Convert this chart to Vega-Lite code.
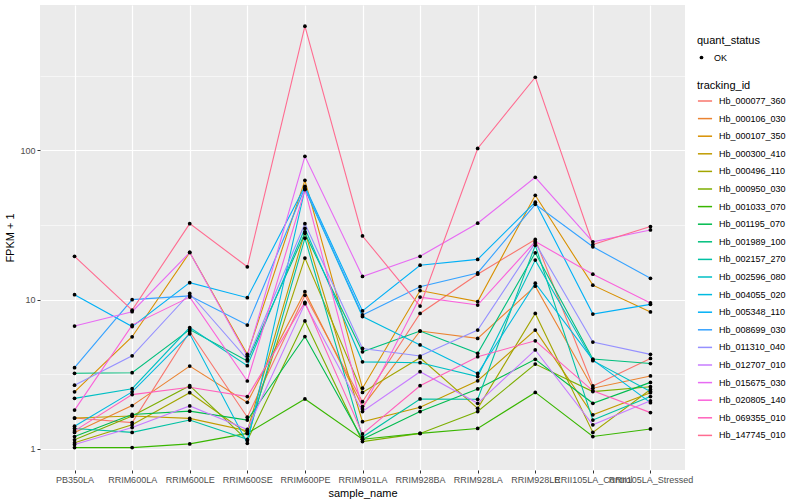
{
"$schema": "https://vega.github.io/schema/vega-lite/v6.json",
"width": 645, "height": 465,
"autosize": {"type": "none"},
"padding": {"left": 40, "top": 5, "right": 115, "bottom": 30},
"background": "white",
"config": {
  "view": {"fill": "#EBEBEB", "stroke": null},
  "font": "Liberation Sans",
  "axis": {"domain": false, "tickColor": "#333333", "tickSize": 3, "tickWidth": 1, "labelColor": "#4D4D4D", "labelFontSize": 9, "labelFont": "Liberation Sans", "titleFont": "Liberation Sans", "titleFontSize": 11, "titleFontWeight": "normal", "titleColor": "black", "gridColor": "white", "labelPadding": 2},
  "legend": {"titleFont": "Liberation Sans", "titleFontSize": 11, "titleFontWeight": "normal", "titleColor": "black", "labelFont": "Liberation Sans", "labelFontSize": 9, "labelColor": "black"}
},
"datasets": {"fpkm": [
{"tracking_id":"Hb_000077_360","sample_name":"PB350LA","FPKM1":1.61,"quant_status":"OK"},
{"tracking_id":"Hb_000077_360","sample_name":"RRIM600LA","FPKM1":1.50,"quant_status":"OK"},
{"tracking_id":"Hb_000077_360","sample_name":"RRIM600LE","FPKM1":6.1,"quant_status":"OK"},
{"tracking_id":"Hb_000077_360","sample_name":"RRIM600SE","FPKM1":1.63,"quant_status":"OK"},
{"tracking_id":"Hb_000077_360","sample_name":"RRIM600PE","FPKM1":10.7,"quant_status":"OK"},
{"tracking_id":"Hb_000077_360","sample_name":"RRIM901LA","FPKM1":2.07,"quant_status":"OK"},
{"tracking_id":"Hb_000077_360","sample_name":"RRIM928BA","FPKM1":8.08,"quant_status":"OK"},
{"tracking_id":"Hb_000077_360","sample_name":"RRIM928LA","FPKM1":14.8,"quant_status":"OK"},
{"tracking_id":"Hb_000077_360","sample_name":"RRIM928LE","FPKM1":25.3,"quant_status":"OK"},
{"tracking_id":"Hb_000077_360","sample_name":"RRII105LA_Control","FPKM1":2.64,"quant_status":"OK"},
{"tracking_id":"Hb_000077_360","sample_name":"RRII105LA_Stressed","FPKM1":4.04,"quant_status":"OK"},
{"tracking_id":"Hb_000106_030","sample_name":"PB350LA","FPKM1":1.29,"quant_status":"OK"},
{"tracking_id":"Hb_000106_030","sample_name":"RRIM600LA","FPKM1":1.95,"quant_status":"OK"},
{"tracking_id":"Hb_000106_030","sample_name":"RRIM600LE","FPKM1":3.59,"quant_status":"OK"},
{"tracking_id":"Hb_000106_030","sample_name":"RRIM600SE","FPKM1":2.05,"quant_status":"OK"},
{"tracking_id":"Hb_000106_030","sample_name":"RRIM600PE","FPKM1":11.3,"quant_status":"OK"},
{"tracking_id":"Hb_000106_030","sample_name":"RRIM901LA","FPKM1":1.92,"quant_status":"OK"},
{"tracking_id":"Hb_000106_030","sample_name":"RRIM928BA","FPKM1":6.16,"quant_status":"OK"},
{"tracking_id":"Hb_000106_030","sample_name":"RRIM928LA","FPKM1":5.5,"quant_status":"OK"},
{"tracking_id":"Hb_000106_030","sample_name":"RRIM928LE","FPKM1":12.3,"quant_status":"OK"},
{"tracking_id":"Hb_000106_030","sample_name":"RRII105LA_Control","FPKM1":2.55,"quant_status":"OK"},
{"tracking_id":"Hb_000106_030","sample_name":"RRII105LA_Stressed","FPKM1":3.08,"quant_status":"OK"},
{"tracking_id":"Hb_000107_350","sample_name":"PB350LA","FPKM1":2.41,"quant_status":"OK"},
{"tracking_id":"Hb_000107_350","sample_name":"RRIM600LA","FPKM1":5.64,"quant_status":"OK"},
{"tracking_id":"Hb_000107_350","sample_name":"RRIM600LE","FPKM1":20.7,"quant_status":"OK"},
{"tracking_id":"Hb_000107_350","sample_name":"RRIM600SE","FPKM1":4.30,"quant_status":"OK"},
{"tracking_id":"Hb_000107_350","sample_name":"RRIM600PE","FPKM1":63,"quant_status":"OK"},
{"tracking_id":"Hb_000107_350","sample_name":"RRIM901LA","FPKM1":2.55,"quant_status":"OK"},
{"tracking_id":"Hb_000107_350","sample_name":"RRIM928BA","FPKM1":11.5,"quant_status":"OK"},
{"tracking_id":"Hb_000107_350","sample_name":"RRIM928LA","FPKM1":9.7,"quant_status":"OK"},
{"tracking_id":"Hb_000107_350","sample_name":"RRIM928LE","FPKM1":50,"quant_status":"OK"},
{"tracking_id":"Hb_000107_350","sample_name":"RRII105LA_Control","FPKM1":12.5,"quant_status":"OK"},
{"tracking_id":"Hb_000107_350","sample_name":"RRII105LA_Stressed","FPKM1":8.27,"quant_status":"OK"},
{"tracking_id":"Hb_000300_410","sample_name":"PB350LA","FPKM1":1.61,"quant_status":"OK"},
{"tracking_id":"Hb_000300_410","sample_name":"RRIM600LA","FPKM1":1.66,"quant_status":"OK"},
{"tracking_id":"Hb_000300_410","sample_name":"RRIM600LE","FPKM1":1.60,"quant_status":"OK"},
{"tracking_id":"Hb_000300_410","sample_name":"RRIM600SE","FPKM1":1.32,"quant_status":"OK"},
{"tracking_id":"Hb_000300_410","sample_name":"RRIM600PE","FPKM1":28.5,"quant_status":"OK"},
{"tracking_id":"Hb_000300_410","sample_name":"RRIM901LA","FPKM1":1.52,"quant_status":"OK"},
{"tracking_id":"Hb_000300_410","sample_name":"RRIM928BA","FPKM1":1.90,"quant_status":"OK"},
{"tracking_id":"Hb_000300_410","sample_name":"RRIM928LA","FPKM1":2.86,"quant_status":"OK"},
{"tracking_id":"Hb_000300_410","sample_name":"RRIM928LE","FPKM1":6.25,"quant_status":"OK"},
{"tracking_id":"Hb_000300_410","sample_name":"RRII105LA_Control","FPKM1":1.69,"quant_status":"OK"},
{"tracking_id":"Hb_000300_410","sample_name":"RRII105LA_Stressed","FPKM1":2.38,"quant_status":"OK"},
{"tracking_id":"Hb_000496_110","sample_name":"PB350LA","FPKM1":1.10,"quant_status":"OK"},
{"tracking_id":"Hb_000496_110","sample_name":"RRIM600LA","FPKM1":1.45,"quant_status":"OK"},
{"tracking_id":"Hb_000496_110","sample_name":"RRIM600LE","FPKM1":2.38,"quant_status":"OK"},
{"tracking_id":"Hb_000496_110","sample_name":"RRIM600SE","FPKM1":1.27,"quant_status":"OK"},
{"tracking_id":"Hb_000496_110","sample_name":"RRIM600PE","FPKM1":19.0,"quant_status":"OK"},
{"tracking_id":"Hb_000496_110","sample_name":"RRIM901LA","FPKM1":2.39,"quant_status":"OK"},
{"tracking_id":"Hb_000496_110","sample_name":"RRIM928BA","FPKM1":4.08,"quant_status":"OK"},
{"tracking_id":"Hb_000496_110","sample_name":"RRIM928LA","FPKM1":1.87,"quant_status":"OK"},
{"tracking_id":"Hb_000496_110","sample_name":"RRIM928LE","FPKM1":8.08,"quant_status":"OK"},
{"tracking_id":"Hb_000496_110","sample_name":"RRII105LA_Control","FPKM1":1.29,"quant_status":"OK"},
{"tracking_id":"Hb_000496_110","sample_name":"RRII105LA_Stressed","FPKM1":2.5,"quant_status":"OK"},
{"tracking_id":"Hb_000950_030","sample_name":"PB350LA","FPKM1":1.15,"quant_status":"OK"},
{"tracking_id":"Hb_000950_030","sample_name":"RRIM600LA","FPKM1":1.66,"quant_status":"OK"},
{"tracking_id":"Hb_000950_030","sample_name":"RRIM600LE","FPKM1":2.65,"quant_status":"OK"},
{"tracking_id":"Hb_000950_030","sample_name":"RRIM600SE","FPKM1":1.14,"quant_status":"OK"},
{"tracking_id":"Hb_000950_030","sample_name":"RRIM600PE","FPKM1":7.2,"quant_status":"OK"},
{"tracking_id":"Hb_000950_030","sample_name":"RRIM901LA","FPKM1":1.12,"quant_status":"OK"},
{"tracking_id":"Hb_000950_030","sample_name":"RRIM928BA","FPKM1":1.27,"quant_status":"OK"},
{"tracking_id":"Hb_000950_030","sample_name":"RRIM928LA","FPKM1":1.78,"quant_status":"OK"},
{"tracking_id":"Hb_000950_030","sample_name":"RRIM928LE","FPKM1":3.7,"quant_status":"OK"},
{"tracking_id":"Hb_000950_030","sample_name":"RRII105LA_Control","FPKM1":2.42,"quant_status":"OK"},
{"tracking_id":"Hb_000950_030","sample_name":"RRII105LA_Stressed","FPKM1":2.61,"quant_status":"OK"},
{"tracking_id":"Hb_001033_070","sample_name":"PB350LA","FPKM1":1.02,"quant_status":"OK"},
{"tracking_id":"Hb_001033_070","sample_name":"RRIM600LA","FPKM1":1.02,"quant_status":"OK"},
{"tracking_id":"Hb_001033_070","sample_name":"RRIM600LE","FPKM1":1.08,"quant_status":"OK"},
{"tracking_id":"Hb_001033_070","sample_name":"RRIM600SE","FPKM1":1.27,"quant_status":"OK"},
{"tracking_id":"Hb_001033_070","sample_name":"RRIM600PE","FPKM1":2.16,"quant_status":"OK"},
{"tracking_id":"Hb_001033_070","sample_name":"RRIM901LA","FPKM1":1.16,"quant_status":"OK"},
{"tracking_id":"Hb_001033_070","sample_name":"RRIM928BA","FPKM1":1.27,"quant_status":"OK"},
{"tracking_id":"Hb_001033_070","sample_name":"RRIM928LA","FPKM1":1.37,"quant_status":"OK"},
{"tracking_id":"Hb_001033_070","sample_name":"RRIM928LE","FPKM1":2.39,"quant_status":"OK"},
{"tracking_id":"Hb_001033_070","sample_name":"RRII105LA_Control","FPKM1":1.21,"quant_status":"OK"},
{"tracking_id":"Hb_001033_070","sample_name":"RRII105LA_Stressed","FPKM1":1.36,"quant_status":"OK"},
{"tracking_id":"Hb_001195_070","sample_name":"PB350LA","FPKM1":1.21,"quant_status":"OK"},
{"tracking_id":"Hb_001195_070","sample_name":"RRIM600LA","FPKM1":1.70,"quant_status":"OK"},
{"tracking_id":"Hb_001195_070","sample_name":"RRIM600LE","FPKM1":1.79,"quant_status":"OK"},
{"tracking_id":"Hb_001195_070","sample_name":"RRIM600SE","FPKM1":1.56,"quant_status":"OK"},
{"tracking_id":"Hb_001195_070","sample_name":"RRIM600PE","FPKM1":5.66,"quant_status":"OK"},
{"tracking_id":"Hb_001195_070","sample_name":"RRIM901LA","FPKM1":1.16,"quant_status":"OK"},
{"tracking_id":"Hb_001195_070","sample_name":"RRIM928BA","FPKM1":1.78,"quant_status":"OK"},
{"tracking_id":"Hb_001195_070","sample_name":"RRIM928LA","FPKM1":2.52,"quant_status":"OK"},
{"tracking_id":"Hb_001195_070","sample_name":"RRIM928LE","FPKM1":3.98,"quant_status":"OK"},
{"tracking_id":"Hb_001195_070","sample_name":"RRII105LA_Control","FPKM1":2.02,"quant_status":"OK"},
{"tracking_id":"Hb_001195_070","sample_name":"RRII105LA_Stressed","FPKM1":2.79,"quant_status":"OK"},
{"tracking_id":"Hb_001989_100","sample_name":"PB350LA","FPKM1":3.21,"quant_status":"OK"},
{"tracking_id":"Hb_001989_100","sample_name":"RRIM600LA","FPKM1":3.24,"quant_status":"OK"},
{"tracking_id":"Hb_001989_100","sample_name":"RRIM600LE","FPKM1":6.3,"quant_status":"OK"},
{"tracking_id":"Hb_001989_100","sample_name":"RRIM600SE","FPKM1":3.88,"quant_status":"OK"},
{"tracking_id":"Hb_001989_100","sample_name":"RRIM600PE","FPKM1":27.8,"quant_status":"OK"},
{"tracking_id":"Hb_001989_100","sample_name":"RRIM901LA","FPKM1":4.47,"quant_status":"OK"},
{"tracking_id":"Hb_001989_100","sample_name":"RRIM928BA","FPKM1":6.16,"quant_status":"OK"},
{"tracking_id":"Hb_001989_100","sample_name":"RRIM928LA","FPKM1":4.37,"quant_status":"OK"},
{"tracking_id":"Hb_001989_100","sample_name":"RRIM928LE","FPKM1":20.6,"quant_status":"OK"},
{"tracking_id":"Hb_001989_100","sample_name":"RRII105LA_Control","FPKM1":4.0,"quant_status":"OK"},
{"tracking_id":"Hb_001989_100","sample_name":"RRII105LA_Stressed","FPKM1":3.73,"quant_status":"OK"},
{"tracking_id":"Hb_002157_270","sample_name":"PB350LA","FPKM1":1.37,"quant_status":"OK"},
{"tracking_id":"Hb_002157_270","sample_name":"RRIM600LA","FPKM1":1.29,"quant_status":"OK"},
{"tracking_id":"Hb_002157_270","sample_name":"RRIM600LE","FPKM1":1.56,"quant_status":"OK"},
{"tracking_id":"Hb_002157_270","sample_name":"RRIM600SE","FPKM1":1.16,"quant_status":"OK"},
{"tracking_id":"Hb_002157_270","sample_name":"RRIM600PE","FPKM1":25.8,"quant_status":"OK"},
{"tracking_id":"Hb_002157_270","sample_name":"RRIM901LA","FPKM1":1.20,"quant_status":"OK"},
{"tracking_id":"Hb_002157_270","sample_name":"RRIM928BA","FPKM1":2.16,"quant_status":"OK"},
{"tracking_id":"Hb_002157_270","sample_name":"RRIM928LA","FPKM1":2.15,"quant_status":"OK"},
{"tracking_id":"Hb_002157_270","sample_name":"RRIM928LE","FPKM1":23.1,"quant_status":"OK"},
{"tracking_id":"Hb_002157_270","sample_name":"RRII105LA_Control","FPKM1":1.56,"quant_status":"OK"},
{"tracking_id":"Hb_002157_270","sample_name":"RRII105LA_Stressed","FPKM1":2.24,"quant_status":"OK"},
{"tracking_id":"Hb_002596_080","sample_name":"PB350LA","FPKM1":2.18,"quant_status":"OK"},
{"tracking_id":"Hb_002596_080","sample_name":"RRIM600LA","FPKM1":2.53,"quant_status":"OK"},
{"tracking_id":"Hb_002596_080","sample_name":"RRIM600LE","FPKM1":6.5,"quant_status":"OK"},
{"tracking_id":"Hb_002596_080","sample_name":"RRIM600SE","FPKM1":3.61,"quant_status":"OK"},
{"tracking_id":"Hb_002596_080","sample_name":"RRIM600PE","FPKM1":30,"quant_status":"OK"},
{"tracking_id":"Hb_002596_080","sample_name":"RRIM901LA","FPKM1":3.83,"quant_status":"OK"},
{"tracking_id":"Hb_002596_080","sample_name":"RRIM928BA","FPKM1":3.78,"quant_status":"OK"},
{"tracking_id":"Hb_002596_080","sample_name":"RRIM928LA","FPKM1":3.05,"quant_status":"OK"},
{"tracking_id":"Hb_002596_080","sample_name":"RRIM928LE","FPKM1":18.4,"quant_status":"OK"},
{"tracking_id":"Hb_002596_080","sample_name":"RRII105LA_Control","FPKM1":3.9,"quant_status":"OK"},
{"tracking_id":"Hb_002596_080","sample_name":"RRII105LA_Stressed","FPKM1":2.42,"quant_status":"OK"},
{"tracking_id":"Hb_004055_020","sample_name":"PB350LA","FPKM1":1.42,"quant_status":"OK"},
{"tracking_id":"Hb_004055_020","sample_name":"RRIM600LA","FPKM1":2.41,"quant_status":"OK"},
{"tracking_id":"Hb_004055_020","sample_name":"RRIM600LE","FPKM1":5.9,"quant_status":"OK"},
{"tracking_id":"Hb_004055_020","sample_name":"RRIM600SE","FPKM1":1.09,"quant_status":"OK"},
{"tracking_id":"Hb_004055_020","sample_name":"RRIM600PE","FPKM1":55,"quant_status":"OK"},
{"tracking_id":"Hb_004055_020","sample_name":"RRIM901LA","FPKM1":7.7,"quant_status":"OK"},
{"tracking_id":"Hb_004055_020","sample_name":"RRIM928BA","FPKM1":4.97,"quant_status":"OK"},
{"tracking_id":"Hb_004055_020","sample_name":"RRIM928LA","FPKM1":3.2,"quant_status":"OK"},
{"tracking_id":"Hb_004055_020","sample_name":"RRIM928LE","FPKM1":12.9,"quant_status":"OK"},
{"tracking_id":"Hb_004055_020","sample_name":"RRII105LA_Control","FPKM1":3.95,"quant_status":"OK"},
{"tracking_id":"Hb_004055_020","sample_name":"RRII105LA_Stressed","FPKM1":2.04,"quant_status":"OK"},
{"tracking_id":"Hb_005348_110","sample_name":"PB350LA","FPKM1":10.8,"quant_status":"OK"},
{"tracking_id":"Hb_005348_110","sample_name":"RRIM600LA","FPKM1":6.6,"quant_status":"OK"},
{"tracking_id":"Hb_005348_110","sample_name":"RRIM600LE","FPKM1":13.0,"quant_status":"OK"},
{"tracking_id":"Hb_005348_110","sample_name":"RRIM600SE","FPKM1":10.3,"quant_status":"OK"},
{"tracking_id":"Hb_005348_110","sample_name":"RRIM600PE","FPKM1":57.5,"quant_status":"OK"},
{"tracking_id":"Hb_005348_110","sample_name":"RRIM901LA","FPKM1":8.4,"quant_status":"OK"},
{"tracking_id":"Hb_005348_110","sample_name":"RRIM928BA","FPKM1":17.0,"quant_status":"OK"},
{"tracking_id":"Hb_005348_110","sample_name":"RRIM928LA","FPKM1":18.6,"quant_status":"OK"},
{"tracking_id":"Hb_005348_110","sample_name":"RRIM928LE","FPKM1":45,"quant_status":"OK"},
{"tracking_id":"Hb_005348_110","sample_name":"RRII105LA_Control","FPKM1":8.0,"quant_status":"OK"},
{"tracking_id":"Hb_005348_110","sample_name":"RRII105LA_Stressed","FPKM1":9.3,"quant_status":"OK"},
{"tracking_id":"Hb_008699_030","sample_name":"PB350LA","FPKM1":3.5,"quant_status":"OK"},
{"tracking_id":"Hb_008699_030","sample_name":"RRIM600LA","FPKM1":10.0,"quant_status":"OK"},
{"tracking_id":"Hb_008699_030","sample_name":"RRIM600LE","FPKM1":10.6,"quant_status":"OK"},
{"tracking_id":"Hb_008699_030","sample_name":"RRIM600SE","FPKM1":6.75,"quant_status":"OK"},
{"tracking_id":"Hb_008699_030","sample_name":"RRIM600PE","FPKM1":56,"quant_status":"OK"},
{"tracking_id":"Hb_008699_030","sample_name":"RRIM901LA","FPKM1":7.9,"quant_status":"OK"},
{"tracking_id":"Hb_008699_030","sample_name":"RRIM928BA","FPKM1":12.2,"quant_status":"OK"},
{"tracking_id":"Hb_008699_030","sample_name":"RRIM928LA","FPKM1":15.1,"quant_status":"OK"},
{"tracking_id":"Hb_008699_030","sample_name":"RRIM928LE","FPKM1":43.5,"quant_status":"OK"},
{"tracking_id":"Hb_008699_030","sample_name":"RRII105LA_Control","FPKM1":22.6,"quant_status":"OK"},
{"tracking_id":"Hb_008699_030","sample_name":"RRII105LA_Stressed","FPKM1":13.9,"quant_status":"OK"},
{"tracking_id":"Hb_011310_040","sample_name":"PB350LA","FPKM1":2.67,"quant_status":"OK"},
{"tracking_id":"Hb_011310_040","sample_name":"RRIM600LA","FPKM1":4.2,"quant_status":"OK"},
{"tracking_id":"Hb_011310_040","sample_name":"RRIM600LE","FPKM1":11.0,"quant_status":"OK"},
{"tracking_id":"Hb_011310_040","sample_name":"RRIM600SE","FPKM1":3.98,"quant_status":"OK"},
{"tracking_id":"Hb_011310_040","sample_name":"RRIM600PE","FPKM1":32.3,"quant_status":"OK"},
{"tracking_id":"Hb_011310_040","sample_name":"RRIM901LA","FPKM1":4.71,"quant_status":"OK"},
{"tracking_id":"Hb_011310_040","sample_name":"RRIM928BA","FPKM1":4.19,"quant_status":"OK"},
{"tracking_id":"Hb_011310_040","sample_name":"RRIM928LA","FPKM1":6.25,"quant_status":"OK"},
{"tracking_id":"Hb_011310_040","sample_name":"RRIM928LE","FPKM1":24.0,"quant_status":"OK"},
{"tracking_id":"Hb_011310_040","sample_name":"RRII105LA_Control","FPKM1":5.2,"quant_status":"OK"},
{"tracking_id":"Hb_011310_040","sample_name":"RRII105LA_Stressed","FPKM1":4.30,"quant_status":"OK"},
{"tracking_id":"Hb_012707_010","sample_name":"PB350LA","FPKM1":1.07,"quant_status":"OK"},
{"tracking_id":"Hb_012707_010","sample_name":"RRIM600LA","FPKM1":1.39,"quant_status":"OK"},
{"tracking_id":"Hb_012707_010","sample_name":"RRIM600LE","FPKM1":1.94,"quant_status":"OK"},
{"tracking_id":"Hb_012707_010","sample_name":"RRIM600SE","FPKM1":1.35,"quant_status":"OK"},
{"tracking_id":"Hb_012707_010","sample_name":"RRIM600PE","FPKM1":9.4,"quant_status":"OK"},
{"tracking_id":"Hb_012707_010","sample_name":"RRIM901LA","FPKM1":1.78,"quant_status":"OK"},
{"tracking_id":"Hb_012707_010","sample_name":"RRIM928BA","FPKM1":3.29,"quant_status":"OK"},
{"tracking_id":"Hb_012707_010","sample_name":"RRIM928LA","FPKM1":2.02,"quant_status":"OK"},
{"tracking_id":"Hb_012707_010","sample_name":"RRIM928LE","FPKM1":4.6,"quant_status":"OK"},
{"tracking_id":"Hb_012707_010","sample_name":"RRII105LA_Control","FPKM1":1.45,"quant_status":"OK"},
{"tracking_id":"Hb_012707_010","sample_name":"RRII105LA_Stressed","FPKM1":2.10,"quant_status":"OK"},
{"tracking_id":"Hb_015675_030","sample_name":"PB350LA","FPKM1":6.65,"quant_status":"OK"},
{"tracking_id":"Hb_015675_030","sample_name":"RRIM600LA","FPKM1":8.3,"quant_status":"OK"},
{"tracking_id":"Hb_015675_030","sample_name":"RRIM600LE","FPKM1":20.7,"quant_status":"OK"},
{"tracking_id":"Hb_015675_030","sample_name":"RRIM600SE","FPKM1":4.18,"quant_status":"OK"},
{"tracking_id":"Hb_015675_030","sample_name":"RRIM600PE","FPKM1":91.3,"quant_status":"OK"},
{"tracking_id":"Hb_015675_030","sample_name":"RRIM901LA","FPKM1":14.3,"quant_status":"OK"},
{"tracking_id":"Hb_015675_030","sample_name":"RRIM928BA","FPKM1":19.5,"quant_status":"OK"},
{"tracking_id":"Hb_015675_030","sample_name":"RRIM928LA","FPKM1":32.5,"quant_status":"OK"},
{"tracking_id":"Hb_015675_030","sample_name":"RRIM928LE","FPKM1":66,"quant_status":"OK"},
{"tracking_id":"Hb_015675_030","sample_name":"RRII105LA_Control","FPKM1":24.4,"quant_status":"OK"},
{"tracking_id":"Hb_015675_030","sample_name":"RRII105LA_Stressed","FPKM1":29.3,"quant_status":"OK"},
{"tracking_id":"Hb_020805_140","sample_name":"PB350LA","FPKM1":1.82,"quant_status":"OK"},
{"tracking_id":"Hb_020805_140","sample_name":"RRIM600LA","FPKM1":6.75,"quant_status":"OK"},
{"tracking_id":"Hb_020805_140","sample_name":"RRIM600LE","FPKM1":10.4,"quant_status":"OK"},
{"tracking_id":"Hb_020805_140","sample_name":"RRIM600SE","FPKM1":2.85,"quant_status":"OK"},
{"tracking_id":"Hb_020805_140","sample_name":"RRIM600PE","FPKM1":54.6,"quant_status":"OK"},
{"tracking_id":"Hb_020805_140","sample_name":"RRIM901LA","FPKM1":1.85,"quant_status":"OK"},
{"tracking_id":"Hb_020805_140","sample_name":"RRIM928BA","FPKM1":10.4,"quant_status":"OK"},
{"tracking_id":"Hb_020805_140","sample_name":"RRIM928LA","FPKM1":9.2,"quant_status":"OK"},
{"tracking_id":"Hb_020805_140","sample_name":"RRIM928LE","FPKM1":24.5,"quant_status":"OK"},
{"tracking_id":"Hb_020805_140","sample_name":"RRII105LA_Control","FPKM1":14.8,"quant_status":"OK"},
{"tracking_id":"Hb_020805_140","sample_name":"RRII105LA_Stressed","FPKM1":9.5,"quant_status":"OK"},
{"tracking_id":"Hb_069355_010","sample_name":"PB350LA","FPKM1":1.32,"quant_status":"OK"},
{"tracking_id":"Hb_069355_010","sample_name":"RRIM600LA","FPKM1":2.31,"quant_status":"OK"},
{"tracking_id":"Hb_069355_010","sample_name":"RRIM600LE","FPKM1":2.59,"quant_status":"OK"},
{"tracking_id":"Hb_069355_010","sample_name":"RRIM600SE","FPKM1":2.24,"quant_status":"OK"},
{"tracking_id":"Hb_069355_010","sample_name":"RRIM600PE","FPKM1":9.6,"quant_status":"OK"},
{"tracking_id":"Hb_069355_010","sample_name":"RRIM901LA","FPKM1":1.26,"quant_status":"OK"},
{"tracking_id":"Hb_069355_010","sample_name":"RRIM928BA","FPKM1":2.65,"quant_status":"OK"},
{"tracking_id":"Hb_069355_010","sample_name":"RRIM928LA","FPKM1":4.15,"quant_status":"OK"},
{"tracking_id":"Hb_069355_010","sample_name":"RRIM928LE","FPKM1":5.3,"quant_status":"OK"},
{"tracking_id":"Hb_069355_010","sample_name":"RRII105LA_Control","FPKM1":2.45,"quant_status":"OK"},
{"tracking_id":"Hb_069355_010","sample_name":"RRII105LA_Stressed","FPKM1":1.75,"quant_status":"OK"},
{"tracking_id":"Hb_147745_010","sample_name":"PB350LA","FPKM1":19.5,"quant_status":"OK"},
{"tracking_id":"Hb_147745_010","sample_name":"RRIM600LA","FPKM1":8.5,"quant_status":"OK"},
{"tracking_id":"Hb_147745_010","sample_name":"RRIM600LE","FPKM1":32.3,"quant_status":"OK"},
{"tracking_id":"Hb_147745_010","sample_name":"RRIM600SE","FPKM1":16.6,"quant_status":"OK"},
{"tracking_id":"Hb_147745_010","sample_name":"RRIM600PE","FPKM1":680,"quant_status":"OK"},
{"tracking_id":"Hb_147745_010","sample_name":"RRIM901LA","FPKM1":26.7,"quant_status":"OK"},
{"tracking_id":"Hb_147745_010","sample_name":"RRIM928BA","FPKM1":9.05,"quant_status":"OK"},
{"tracking_id":"Hb_147745_010","sample_name":"RRIM928LA","FPKM1":103,"quant_status":"OK"},
{"tracking_id":"Hb_147745_010","sample_name":"RRIM928LE","FPKM1":309,"quant_status":"OK"},
{"tracking_id":"Hb_147745_010","sample_name":"RRII105LA_Control","FPKM1":23.4,"quant_status":"OK"},
{"tracking_id":"Hb_147745_010","sample_name":"RRII105LA_Stressed","FPKM1":30.9,"quant_status":"OK"}
]},
"data": {"name": "fpkm"},
"encoding": {
  "x": {"field": "sample_name", "type": "nominal",
        "sort": ["PB350LA","RRIM600LA","RRIM600LE","RRIM600SE","RRIM600PE","RRIM901LA","RRIM928BA","RRIM928LA","RRIM928LE","RRII105LA_Control","RRII105LA_Stressed"],
        "scale": {"type": "point", "padding": 0.6},
        "axis": {"title": "sample_name", "labelAngle": 0, "labelOverlap": false, "labelBound": false, "grid": true, "gridWidth": 1.2, "titlePadding": 3}},
  "y": {"field": "FPKM1", "type": "quantitative",
        "scale": {"type": "log", "domain": [0.722, 942], "nice": false, "zero": false},
        "axis": {"title": "FPKM + 1", "values": [1, 3.1623, 10, 31.623, 100, 316.23],
                 "labelExpr": "(datum.value == 1 || datum.value == 10 || datum.value == 100) ? datum.label : ''",
                 "gridWidth": {"condition": {"test": "datum.value == 1 || datum.value == 10 || datum.value == 100", "value": 1.2}, "value": 0.55},
                 "tickOpacity": {"condition": {"test": "datum.value == 1 || datum.value == 10 || datum.value == 100", "value": 1}, "value": 0},
                 "titlePadding": 4}}
},
"layer": [
  {"mark": {"type": "line", "strokeWidth": 1.1},
   "encoding": {"stroke": {"field": "tracking_id", "type": "nominal",
     "scale": {"domain": ["Hb_000077_360","Hb_000106_030","Hb_000107_350","Hb_000300_410","Hb_000496_110","Hb_000950_030","Hb_001033_070","Hb_001195_070","Hb_001989_100","Hb_002157_270","Hb_002596_080","Hb_004055_020","Hb_005348_110","Hb_008699_030","Hb_011310_040","Hb_012707_010","Hb_015675_030","Hb_020805_140","Hb_069355_010","Hb_147745_010"],
               "range": ["#F8766D","#EA8331","#D89000","#C09B00","#A3A500","#7CAE00","#39B600","#00BB4E","#00BF7D","#00C1A3","#00BFC4","#00BAE0","#00B0F6","#35A2FF","#9590FF","#C77CFF","#E76BF3","#FA62DB","#FF62BC","#FF6C91"]},
     "legend": {"title": "tracking_id", "orient": "none", "legendX": 657, "legendY": 75, "symbolType": "stroke", "symbolSize": 200, "symbolStrokeWidth": 1.5, "rowPadding": 4.6, "titlePadding": 2, "labelOffset": 6}}}},
  {"mark": {"type": "point", "filled": true, "size": 14, "opacity": 1},
   "encoding": {"color": {"field": "quant_status", "type": "nominal", "scale": {"range": ["black"]},
     "legend": {"title": "quant_status", "orient": "none", "legendX": 657, "legendY": 30, "symbolSize": 14, "titlePadding": 7, "labelOffset": 8}}}}
]
}
